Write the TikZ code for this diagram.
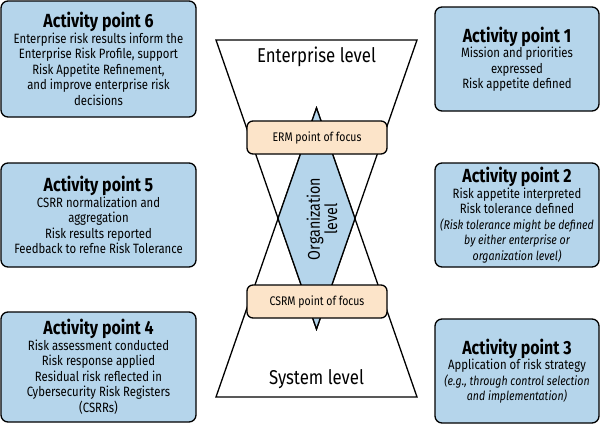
\documentclass[tikz,border=0pt]{standalone}
\usepackage{fontspec}
\setmainfont{Fira Sans}[FakeStretch=0.84]
\newcommand{\itl}{\fontsize{12.6}{15.5}\selectfont\itshape}
\begin{document}
\begin{tikzpicture}[x=1pt,y=-1pt,
  apbox/.style={draw=black, line width=1.3pt, rounded corners=7pt, fill=apblue,
     align=center, inner sep=0pt, font=\fontsize{13.5}{15.5}\selectfont},
  focusbox/.style={draw=black, line width=1.3pt, rounded corners=6pt, fill=peach,
     minimum width=140pt, minimum height=33pt, inner sep=0pt,
     font=\fontsize{12.5}{14}\selectfont},
  leveltext/.style={font=\fontsize{20}{22}\selectfont}]
\definecolor{apblue}{HTML}{B5D5EB}
\definecolor{peach}{HTML}{FCE4C9}
\useasboundingbox (0,0) rectangle (600,424);
\fill[white] (0,0) rectangle (600,424);
% hourglass
\coordinate (tl) at (216,40);
\coordinate (tr) at (417,40);
\coordinate (bl) at (216,397);
\coordinate (br) at (417,397);
\coordinate (dtop) at (316.5,108);
\coordinate (dbot) at (316.5,329);
\coordinate (dl) at (278,218.5);
\coordinate (dr) at (355,218.5);
\draw[line width=1.3pt, line join=miter] (tl) -- (tr) -- (dbot) -- cycle;
\draw[line width=1.3pt, line join=miter] (bl) -- (br) -- (dtop) -- cycle;
\draw[line width=1.3pt, fill=apblue, line join=miter] (dtop) -- (dr) -- (dbot) -- (dl) -- cycle;
\node[rotate=90, align=center, font=\fontsize{17}{15}\selectfont] (org) at (322,219) {Organization\\level};
\node[leveltext] (ent) at (316.5,57) {Enterprise level};
\node[leveltext] (sys) at (316.5,379) {System level};
\node[focusbox] (erm) at (317,137.5) {ERM point of focus};
\node[focusbox] (csrm) at (317,301.5) {CSRM point of focus};
% activity boxes
\node[apbox, minimum width=195pt, minimum height=116pt] (ap6) at (98.5,59)
 {{\fontsize{19}{22}\selectfont\bfseries Activity point 6}\\
  Enterprise risk results inform the\\Enterprise Risk Profile, support\\
  Risk Appetite Refinement,\\and improve enterprise risk\\decisions};
\node[apbox, minimum width=164pt, minimum height=104pt] (ap1) at (517,59)
 {{\fontsize{19}{22}\selectfont\bfseries Activity point 1}\\
  Mission and priorities\\expressed\\Risk appetite defined};
\node[apbox, minimum width=195pt, minimum height=104pt] (ap5) at (98.5,215)
 {{\fontsize{19}{22}\selectfont\bfseries Activity point 5}\\
  CSRR normalization and\\aggregation\\Risk results reported\\Feedback to refne Risk Tolerance};
\node[apbox, minimum width=164pt, minimum height=104pt] (ap2) at (517,215)
 {{\fontsize{19}{22}\selectfont\bfseries Activity point 2}\\
  Risk appetite interpreted\\Risk tolerance defined\\
  {\itl (Risk tolerance might be defined}\\{\itl by either enterprise or}\\{\itl organization level)}};
\node[apbox, minimum width=195pt, minimum height=110pt] (ap4) at (98.5,367)
 {{\fontsize{19}{22}\selectfont\bfseries Activity point 4}\\
  Risk assessment conducted\\Risk response applied\\Residual risk reflected in\\
  Cybersecurity Risk Registers\\(CSRRs)};
\node[apbox, minimum width=164pt, minimum height=104pt] (ap3) at (517,371)
 {{\fontsize{19}{22}\selectfont\bfseries Activity point 3}\\
  Application of risk strategy\\
  {\itl (e.g., through control selection}\\{\itl and implementation)}};
\end{tikzpicture}
\end{document}
